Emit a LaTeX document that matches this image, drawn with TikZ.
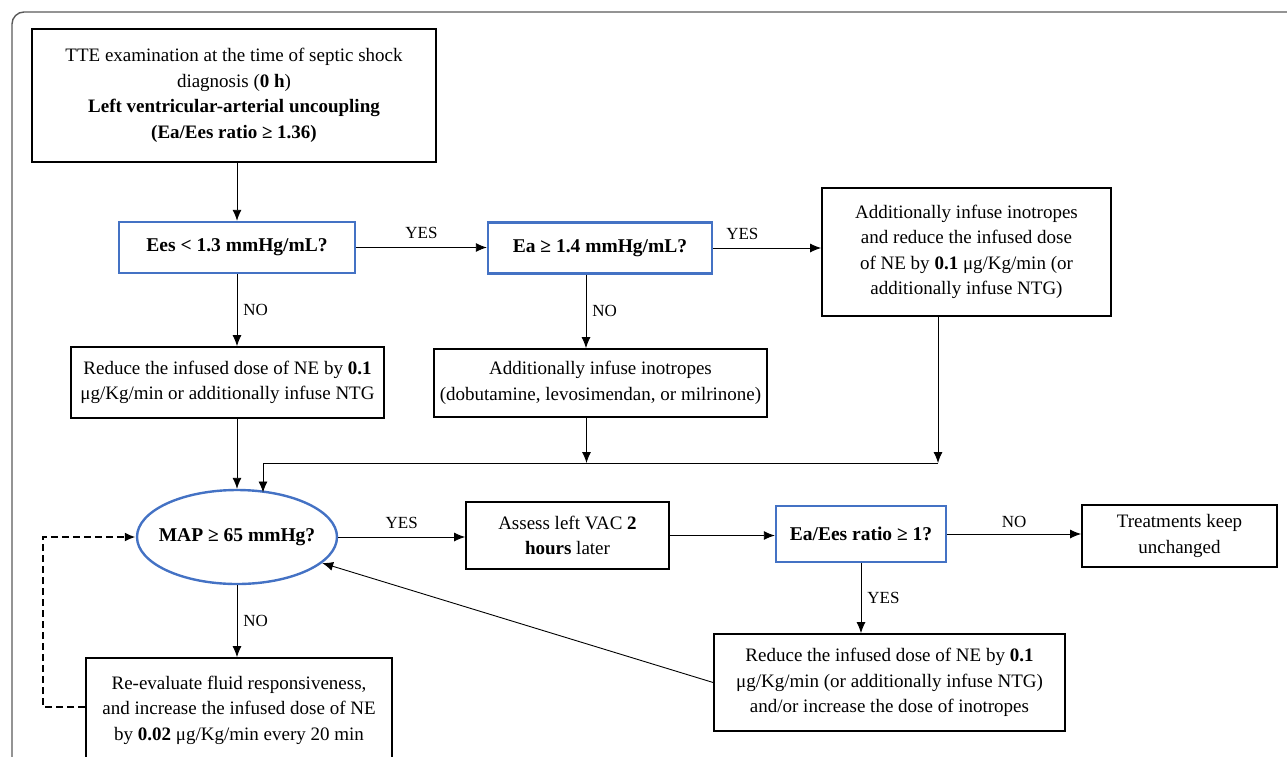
\documentclass[tikz,border=0pt]{standalone}
\usepackage{fontspec}
\setmainfont{Liberation Serif}
\usetikzlibrary{arrows.meta,shapes.geometric}
\definecolor{myblue}{RGB}{68,114,196}
\definecolor{framegray}{RGB}{90,90,90}
\begin{document}
\begin{tikzpicture}[x=1pt,y=-1pt,
  every node/.style={font=\fontsize{19}{25.5}\selectfont},
  box/.style={draw=black, line width=1.7pt, rectangle, align=center, inner sep=0pt},
  bbox/.style={draw=myblue, line width=2.4pt, rectangle, align=center, inner sep=0pt,
     font=\fontsize{19.5}{25}\selectfont\bfseries},
  arr/.style={line width=0.9pt, -{Latex[length=11pt,width=9pt]}},
  lbl/.style={font=\fontsize{17}{19}\selectfont, inner sep=1pt},
  dashline/.style={line width=2.2pt, dash pattern=on 7pt off 4pt, -{Latex[length=11pt,width=9pt]}}
]
\useasboundingbox (0,0) rectangle (1287,756);
\clip (0,0) rectangle (1287,756);
\draw[framegray, line width=1.4pt, rounded corners=12pt] (12,800) -- (12,12) -- (1300,12);

\node[box, minimum width=404pt, minimum height=133pt] (top) at (234,95.5)
  {TTE examination at the time of septic shock\\ diagnosis (\textbf{0 h})\\
   \textbf{Left ventricular-arterial uncoupling}\\ \textbf{(Ea/Ees ratio ≥ 1.36)}};
\node[bbox, minimum width=236pt, minimum height=51pt] (ees) at (237,247.5) {Ees < 1.3 mmHg/mL?};
\node[bbox, minimum width=224pt, minimum height=51pt] (ea) at (600,248) {Ea ≥ 1.4 mmHg/mL?};
\node[box, minimum width=289pt, minimum height=128pt] (right) at (966.5,252)
  {Additionally infuse inotropes\\ and reduce the infused dose\\
   of NE by \textbf{0.1} μg/Kg/min (or\\ additionally infuse NTG)};
\node[box, minimum width=313pt, minimum height=71pt] (reduce) at (227.5,382.5)
  {Reduce the infused dose of NE by \textbf{0.1}\\ μg/Kg/min or additionally infuse NTG};
\node[box, minimum width=333pt, minimum height=68pt] (add) at (600.5,383)
  {Additionally infuse inotropes\\ (dobutamine, levosimendan, or milrinone)};
\node[draw=myblue, line width=2.4pt, ellipse, minimum width=200pt, minimum height=94pt, inner sep=0pt,
  font=\fontsize{19.5}{25}\selectfont\bfseries] (map) at (237,537) {\makebox[0pt]{MAP ≥ 65 mmHg?}};
\node[box, minimum width=203pt, minimum height=67pt] (assess) at (567.5,535.5)
  {Assess left VAC \textbf{2}\\ \textbf{hours} later};
\node[bbox, minimum width=170pt, minimum height=56pt] (eaees) at (861,534) {Ea/Ees ratio ≥ 1?};
\node[box, minimum width=195pt, minimum height=62pt] (treat) at (1179.5,536)
  {Treatments keep\\ unchanged};
\node[box, minimum width=351pt, minimum height=97pt] (reduce2) at (889.5,682.5)
  {Reduce the infused dose of NE by \textbf{0.1}\\ μg/Kg/min (or additionally infuse NTG)\\
   and/or increase the dose of inotropes};
\node[box, minimum width=306pt, minimum height=104pt] (reeval) at (239,710)
  {Re-evaluate fluid responsiveness,\\ and increase the infused dose of NE\\
   by \textbf{0.02} μg/Kg/min every 20 min};

\coordinate (m) at (263,463);
\coordinate (mr) at (938,463);
\coordinate (mt) at (263,492.5);
\coordinate (dl) at (43,707);

\draw[arr] (ees.north |- top.south) -- (ees.north);
\draw[arr] (ees.east) -- node[lbl, midway, above=7pt] {YES} (ees.east -| ea.west);
\draw[arr] (ea.east) -- node[lbl, pos=0.27, above=7pt] {YES} (ea.east -| right.west);
\draw[arr] (ees.south) -- node[lbl, midway, right=5pt] {NO} (ees.south |- reduce.north);
\draw[arr] ([xshift=-14pt]ea.south) -- node[lbl, midway, right=5pt] {NO} ([xshift=-14pt]ea.south |- add.north);
\draw[arr] ([xshift=-14pt]add.south) -- ([xshift=-14pt]add.south |- m);
\draw[arr] (mr |- right.south) -- (mr);
\draw[line width=0.9pt] (mr) -- (m);
\draw[arr] (m) -- (mt);
\draw[arr] (reduce.south -| map.north) -- (map.north);
\draw[arr] (map.east) -- node[lbl, midway, above=7pt] {YES} (map.east -| assess.west);
\draw[arr] (assess.east) -- (assess.east -| eaees.west);
\draw[arr] (eaees.east) -- node[lbl, pos=0.5, above=5pt] {NO} (eaees.east -| treat.west);
\draw[arr] (eaees.south) -- node[lbl, midway, right=5pt] {YES} (eaees.south |- reduce2.north);
\draw[arr] (reduce2.west) -- (map);
\draw[arr] (map.south) -- node[lbl, midway, right=5pt] {NO} (map.south |- reeval.north);
\draw[dashline] (reeval.west |- dl) -- (dl) |- (map.west);
\end{tikzpicture}
\end{document}
